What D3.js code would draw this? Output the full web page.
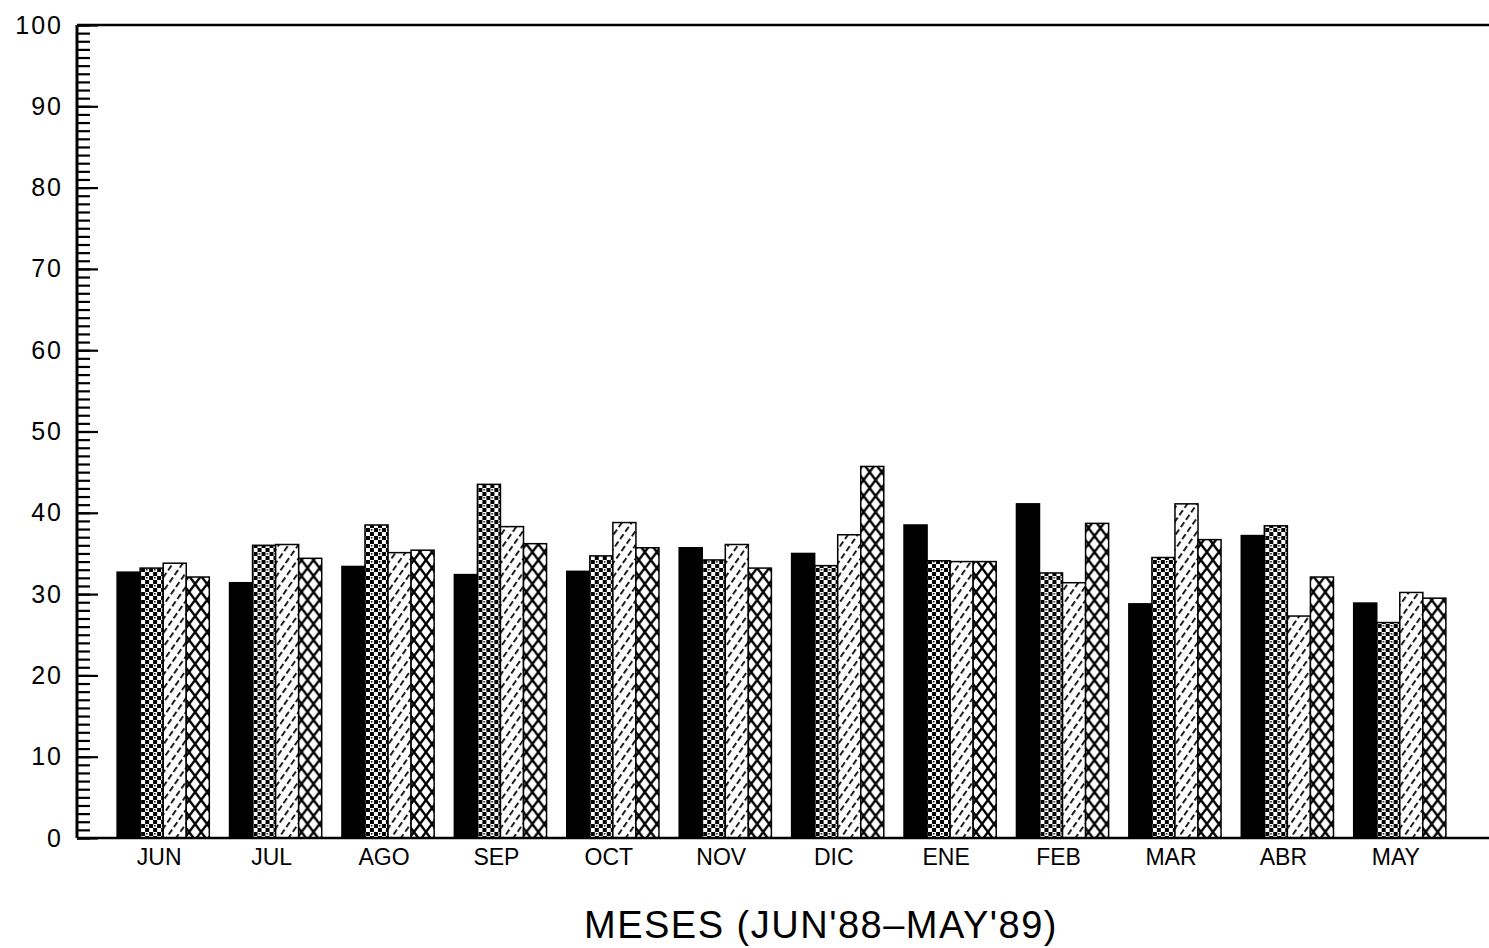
<!DOCTYPE html>
<html>
<head>
<meta charset="utf-8">
<style>
body {margin:0; background:#fff;}
text {font-family:'Liberation Sans',Arial,sans-serif; fill:#000;}
</style>
<script src="https://cdn.jsdelivr.net/npm/d3@7/dist/d3.min.js"></script>
</head>
<body>
<svg id="svg001"></svg>
<script>
var months=['JUN','JUL','AGO','SEP','OCT','NOV','DIC','ENE','FEB','MAR','ABR','MAY'];
var serieA=[32.7,31.4,33.4,32.4,32.8,35.7,35.0,38.5,41.1,28.8,37.2,28.9];
var serieB=[33.2,36.0,38.5,43.5,34.7,34.2,33.5,34.1,32.6,34.5,38.4,26.5];
var serieC=[33.8,36.1,35.1,38.3,38.8,36.1,37.3,34.0,31.4,41.1,27.3,30.2];
var serieD=[32.1,34.4,35.4,36.2,35.7,33.2,45.7,34.0,38.7,36.7,32.1,29.5];
var yTicks=[0,10,20,30,40,50,60,70,80,90,100];
var xTitle="MESES (JUN'88\u2013MAY'89)";

var W=1489,H=948;
var x0=77,yTop=25,yBot=838;
var svg=d3.select('#svg001').attr('width',W).attr('height',H);

// fill patterns: solid, dots, hatch, crosshatch
var defs=svg.append('defs');
var pd=defs.append('pattern').attr('id','pDots').attr('patternUnits','userSpaceOnUse')
   .attr('width',8).attr('height',8);
pd.append('rect').attr('width',8).attr('height',8).attr('fill','#fff');
pd.append('path').attr('d','M0,0H4V4H0ZM4,4H8V8H4Z').attr('fill','#000');
pd.append('rect').attr('x',5).attr('y',1).attr('width',1.5).attr('height',1.5).attr('fill','#000');
var ph=defs.append('pattern').attr('id','pHatch').attr('patternUnits','userSpaceOnUse')
   .attr('width',8).attr('height',9).attr('patternTransform','rotate(35)');
ph.append('rect').attr('width',8).attr('height',9).attr('fill','#fff');
ph.append('line').attr('x1',0).attr('y1',0).attr('x2',0).attr('y2',9)
   .attr('stroke','#000').attr('stroke-width',3.5).attr('stroke-dasharray','6,3');
var pc=defs.append('pattern').attr('id','pCross').attr('patternUnits','userSpaceOnUse')
   .attr('width',12).attr('height',16);
pc.append('rect').attr('width',12).attr('height',16).attr('fill','#fff');
pc.append('path').attr('d','M0,0L12,16M12,0L0,16')
   .attr('stroke','#000').attr('stroke-width',2.4).attr('fill','none');
var fills=['#000','url(#pDots)','url(#pHatch)','url(#pCross)'];

var xScale=d3.scaleBand().domain(months).range([107,1456])
   .paddingInner(0.18).paddingOuter(0.09);
var yScale=d3.scaleLinear().domain([0,100]).range([yBot,yTop]);
var keys=['a','b','c','d'];
var xSub=d3.scaleBand().domain(keys).range([0,xScale.bandwidth()]);
var table=months.map(function(m,i){
   return {m:m,a:serieA[i],b:serieB[i],c:serieC[i],d:serieD[i]};});

// bars
var g=svg.append('g').selectAll('g').data(table).enter().append('g')
   .attr('transform',function(d){return 'translate('+xScale(d.m)+',0)';});
g.selectAll('rect').data(function(d){return keys.map(function(k,j){return {k:k,v:d[k],j:j};});})
 .enter().append('rect')
   .attr('x',function(d){return xSub(d.k);})
   .attr('width',xSub.bandwidth())
   .attr('y',function(d){return yScale(d.v);})
   .attr('height',function(d){return yBot-yScale(d.v);})
   .attr('fill',function(d){return fills[d.j];})
   .attr('stroke','#000').attr('stroke-width',1.5);

// y axis: labels + inside ticks
var yl=svg.append('g').attr('transform','translate('+x0+',0)')
   .call(d3.axisLeft(yScale).tickValues(yTicks).tickSize(0).tickPadding(14));
yl.select('.domain').remove();
yl.selectAll('text').style('font-size','25px').style('letter-spacing','2px')
   .attr('font-family','Liberation Sans');
svg.append('g').attr('transform','translate('+x0+',0)')
   .call(d3.axisRight(yScale).ticks(100).tickSize(13).tickFormat(''))
   .call(function(s){s.select('.domain').remove();
       s.selectAll('line').attr('stroke-width',2.2);});
svg.append('g').attr('transform','translate('+x0+',0)')
   .call(d3.axisRight(yScale).tickValues(yTicks).tickSize(21).tickFormat(''))
   .call(function(s){s.select('.domain').remove();
       s.selectAll('line').attr('stroke-width',2.2);});

// frame lines
svg.append('line').attr('x1',x0).attr('x2',W).attr('y1',yTop).attr('y2',yTop)
   .attr('stroke','#000').attr('stroke-width',2.5);
svg.append('line').attr('x1',x0).attr('x2',x0).attr('y1',yTop).attr('y2',yBot)
   .attr('stroke','#000').attr('stroke-width',3);
svg.append('line').attr('x1',x0).attr('x2',W).attr('y1',yBot).attr('y2',yBot)
   .attr('stroke','#000').attr('stroke-width',2.5);

// x labels
var xl=svg.append('g').attr('transform','translate(-4,'+yBot+')')
   .call(d3.axisBottom(xScale).tickSize(0).tickPadding(11));
xl.select('.domain').remove();
xl.selectAll('text').style('font-size','23px');

svg.append('text').attr('x',821).attr('y',938).attr('text-anchor','middle')
   .style('font-size','38px').style('letter-spacing','1.5px').text(xTitle);
</script>
</body>
</html>
